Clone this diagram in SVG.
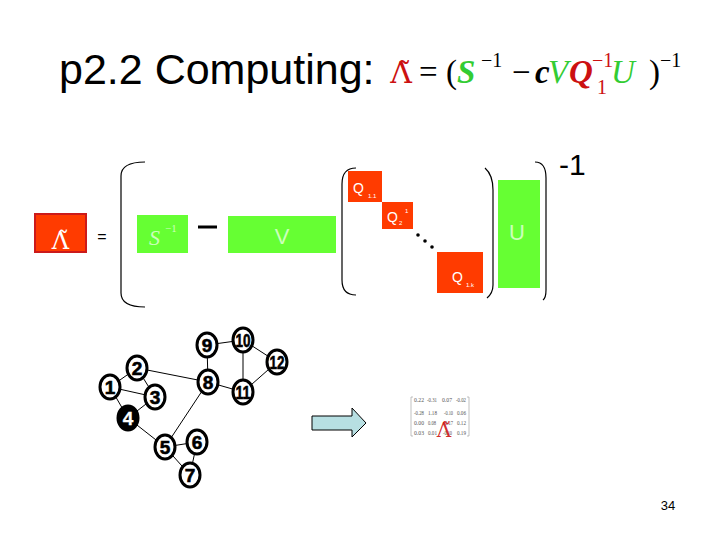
<svg xmlns="http://www.w3.org/2000/svg" width="720" height="540" viewBox="0 0 720 540">
<style>
.sans{font-family:"Liberation Sans",Arial,sans-serif}
.serif{font-family:"Liberation Serif","Times New Roman",serif}
.lam{font-family:"DejaVu Serif","Liberation Serif",serif}
.br{fill:none;stroke:#000;stroke-width:1.2}
.edge{stroke:#000;stroke-width:1;fill:none}
.node ellipse{fill:#fff;stroke:#000;stroke-width:3}
.node text{font-family:"Liberation Sans",Arial,sans-serif;font-size:19px;font-weight:bold;text-anchor:middle;fill:#000;stroke:#000;stroke-width:0.6}
.red{fill:#ff3b00}
.grn{fill:#66ff33}
.mx{font-family:"Liberation Serif",serif;font-size:6px;fill:#555}
</style>
<rect width="720" height="540" fill="#fff"/>
<text class="sans" x="59" y="84" font-size="43">p2.2 Computing:</text>
<g id="formula" class="serif" font-size="33">
<text class="lam" x="401" y="83" font-size="30" text-anchor="middle" fill="#cc1111">Λ̃</text>
<text x="419" y="83">=</text>
<text x="446" y="83">(</text>
<text x="457" y="83" fill="#33cc33" font-style="italic" font-weight="bold">S</text>
<text x="481" y="67" font-size="20">−1</text>
<text x="512" y="83">−</text>
<text x="535" y="83" font-style="italic" font-weight="bold">c</text>
<text x="548" y="83" fill="#33cc33" font-style="italic">V</text>
<text x="569" y="83" fill="#cc1111" font-style="italic" font-weight="bold">Q</text>
<text x="592" y="67" font-size="20" fill="#cc1111">−1</text>
<text x="597" y="94" font-size="20" fill="#cc1111">1</text>
<text x="611" y="83" fill="#33cc33" font-style="italic">U</text>
<text x="649" y="83">)</text>
<text x="660" y="67" font-size="20">−1</text>
</g>
<g id="lambda">
<rect x="35" y="214" width="51" height="38" fill="#ff3b00" stroke="#cc1a1a" stroke-width="2"/>
<text class="lam" x="60.5" y="249" font-size="24" text-anchor="middle" fill="#fff">Λ̃</text>
</g>
<text class="sans" x="102" y="242" font-size="16" text-anchor="middle">=</text>
<path class="br" d="M145,162 Q121,162 121,176 L121,293 Q121,307 145,307"/>
<g id="sinv">
<rect x="137" y="215" width="51" height="38" class="grn"/>
<text class="serif" x="149" y="245" font-size="22" font-style="italic" fill="#ccffbb">S</text>
<text class="serif" x="165" y="232" font-size="11" fill="#ccffbb">−1</text>
</g>
<line x1="198" y1="227" x2="217" y2="227" stroke="#000" stroke-width="3"/>
<g id="V">
<rect x="228" y="216" width="108" height="37" class="grn"/>
<text class="sans" x="282" y="244" font-size="22" text-anchor="middle" fill="#ccffbb">V</text>
</g>
<path class="br" d="M356,168 Q342,168 342,184 L342,280 Q342,295 356,295"/>
<g id="Q11">
<rect x="348" y="171" width="34" height="31" class="red"/>
<text class="sans" x="353" y="193" font-size="14" fill="#fff">Q</text>
<text class="sans" x="368" y="198" font-size="6" fill="#fff">1.1</text>
</g>
<g id="Q2">
<rect x="382" y="202" width="31" height="27" class="red"/>
<text class="sans" x="387" y="222" font-size="14" fill="#fff">Q</text>
<text class="sans" x="399" y="225" font-size="6" fill="#fff">2</text>
<text class="sans" x="405" y="213" font-size="6" fill="#fff">1</text>
</g>
<g id="dots" fill="#000">
<circle cx="418" cy="235" r="1.8"/><circle cx="425" cy="241" r="1.8"/><circle cx="432" cy="247" r="1.8"/>
</g>
<g id="Q1k">
<rect x="437" y="252" width="46" height="41" class="red"/>
<text class="sans" x="452" y="282" font-size="14" fill="#fff">Q</text>
<text class="sans" x="466" y="287" font-size="6" fill="#fff">1.k</text>
</g>
<path class="br" d="M485,168 Q493,175 493,190 L493,285 Q493,293 487,298"/>
<g id="U">
<rect x="498" y="180" width="42" height="108" class="grn"/>
<text class="sans" x="517" y="240" font-size="22" text-anchor="middle" fill="#ccffbb">U</text>
</g>
<path class="br" d="M535,162 Q546,162 546,178 L546,290 Q546,298 543,300"/>
<text class="sans" x="559" y="175" font-size="30">-1</text>
<g id="connectors">
<line class="edge" x1="110" y1="387" x2="137" y2="368"/>
<line class="edge" x1="110" y1="387" x2="155" y2="397"/>
<line class="edge" x1="110" y1="387" x2="128" y2="418"/>
<line class="edge" x1="137" y1="368" x2="155" y2="397"/>
<line class="edge" x1="137" y1="368" x2="208" y2="382"/>
<line class="edge" x1="155" y1="397" x2="128" y2="418"/>
<line class="edge" x1="128" y1="418" x2="165" y2="447"/>
<line class="edge" x1="165" y1="447" x2="208" y2="382"/>
<line class="edge" x1="165" y1="447" x2="197" y2="442"/>
<line class="edge" x1="165" y1="447" x2="190" y2="475"/>
<line class="edge" x1="197" y1="442" x2="190" y2="475"/>
<line class="edge" x1="208" y1="382" x2="207" y2="345"/>
<line class="edge" x1="208" y1="382" x2="243" y2="392"/>
<line class="edge" x1="207" y1="345" x2="243" y2="340"/>
<line class="edge" x1="243" y1="340" x2="243" y2="392"/>
<line class="edge" x1="243" y1="340" x2="277" y2="362"/>
<line class="edge" x1="243" y1="392" x2="277" y2="362"/>
</g>
<g id="n1" class="node"><ellipse cx="110" cy="387" rx="10" ry="12"/><text x="110" y="394">1</text></g>
<g id="n2" class="node"><ellipse cx="137" cy="368" rx="10" ry="12"/><text x="137" y="375">2</text></g>
<g id="n3" class="node"><ellipse cx="155" cy="397" rx="10" ry="12"/><text x="155" y="404">3</text></g>
<g id="n4" class="node"><ellipse cx="128" cy="418" rx="10" ry="12" style="fill:#000"/><text x="128" y="425" style="fill:#fff;stroke:#fff;stroke-width:0.3">4</text></g>
<g id="n5" class="node"><ellipse cx="165" cy="447" rx="10" ry="12"/><text x="165" y="454">5</text></g>
<g id="n6" class="node"><ellipse cx="197" cy="442" rx="10" ry="12"/><text x="197" y="449">6</text></g>
<g id="n7" class="node"><ellipse cx="190" cy="475" rx="10" ry="12"/><text x="190" y="482">7</text></g>
<g id="n8" class="node"><ellipse cx="208" cy="382" rx="10" ry="12"/><text x="208" y="389">8</text></g>
<g id="n9" class="node"><ellipse cx="207" cy="345" rx="10" ry="12"/><text x="207" y="352">9</text></g>
<g id="n10" class="node"><ellipse cx="243" cy="340" rx="10" ry="12"/><text x="243" y="347" textLength="15" lengthAdjust="spacingAndGlyphs">10</text></g>
<g id="n11" class="node"><ellipse cx="243" cy="392" rx="10" ry="12"/><text x="243" y="399" textLength="15" lengthAdjust="spacingAndGlyphs">11</text></g>
<g id="n12" class="node"><ellipse cx="277" cy="362" rx="10" ry="12"/><text x="277" y="369" textLength="15" lengthAdjust="spacingAndGlyphs">12</text></g>
<path id="arrow" d="M312,416 L352,416 L352,408 L366,423 L352,437 L352,430 L312,430 Z" fill="#b7dfe2" stroke="#000" stroke-width="1"/>
<g id="matrix">
<path d="M413,397 L411,397 L411,436 L413,436 M467,397 L469,397 L469,436 L467,436" fill="none" stroke="#999" stroke-width="0.6"/>
<text class="mx" x="414" y="402" textLength="10" lengthAdjust="spacingAndGlyphs">0.22</text><text class="mx" x="427" y="402" textLength="10" lengthAdjust="spacingAndGlyphs">-0.31</text><text class="mx" x="442" y="402" textLength="10" lengthAdjust="spacingAndGlyphs">0.07</text><text class="mx" x="456" y="402" textLength="10" lengthAdjust="spacingAndGlyphs">-0.02</text>
<text class="mx" x="414" y="415" textLength="10" lengthAdjust="spacingAndGlyphs">-0.28</text><text class="mx" x="428" y="415" textLength="9" lengthAdjust="spacingAndGlyphs">1.18</text><text class="mx" x="444" y="415" textLength="9" lengthAdjust="spacingAndGlyphs">-0.10</text><text class="mx" x="457" y="415" textLength="9" lengthAdjust="spacingAndGlyphs">0.06</text>
<text class="mx" x="414" y="425" textLength="10" lengthAdjust="spacingAndGlyphs">0.00</text><text class="mx" x="428" y="425" textLength="8" lengthAdjust="spacingAndGlyphs">0.08</text><text class="mx" x="445" y="425" textLength="8" lengthAdjust="spacingAndGlyphs">0.17</text><text class="mx" x="457" y="425" textLength="9" lengthAdjust="spacingAndGlyphs">0.12</text>
<text class="mx" x="414" y="435" textLength="10" lengthAdjust="spacingAndGlyphs">0.03</text><text class="mx" x="428" y="435" textLength="9" lengthAdjust="spacingAndGlyphs">0.01</text><text class="mx" x="443" y="435" textLength="9" lengthAdjust="spacingAndGlyphs">-0.10</text><text class="mx" x="457" y="435" textLength="9" lengthAdjust="spacingAndGlyphs">0.19</text>
<text class="lam" x="444" y="437" font-size="20" text-anchor="middle" fill="#cc1111" fill-opacity="0.9">Λ̃</text>
</g>
<text class="sans" x="668" y="510" font-size="13" text-anchor="middle">34</text>
</svg>
